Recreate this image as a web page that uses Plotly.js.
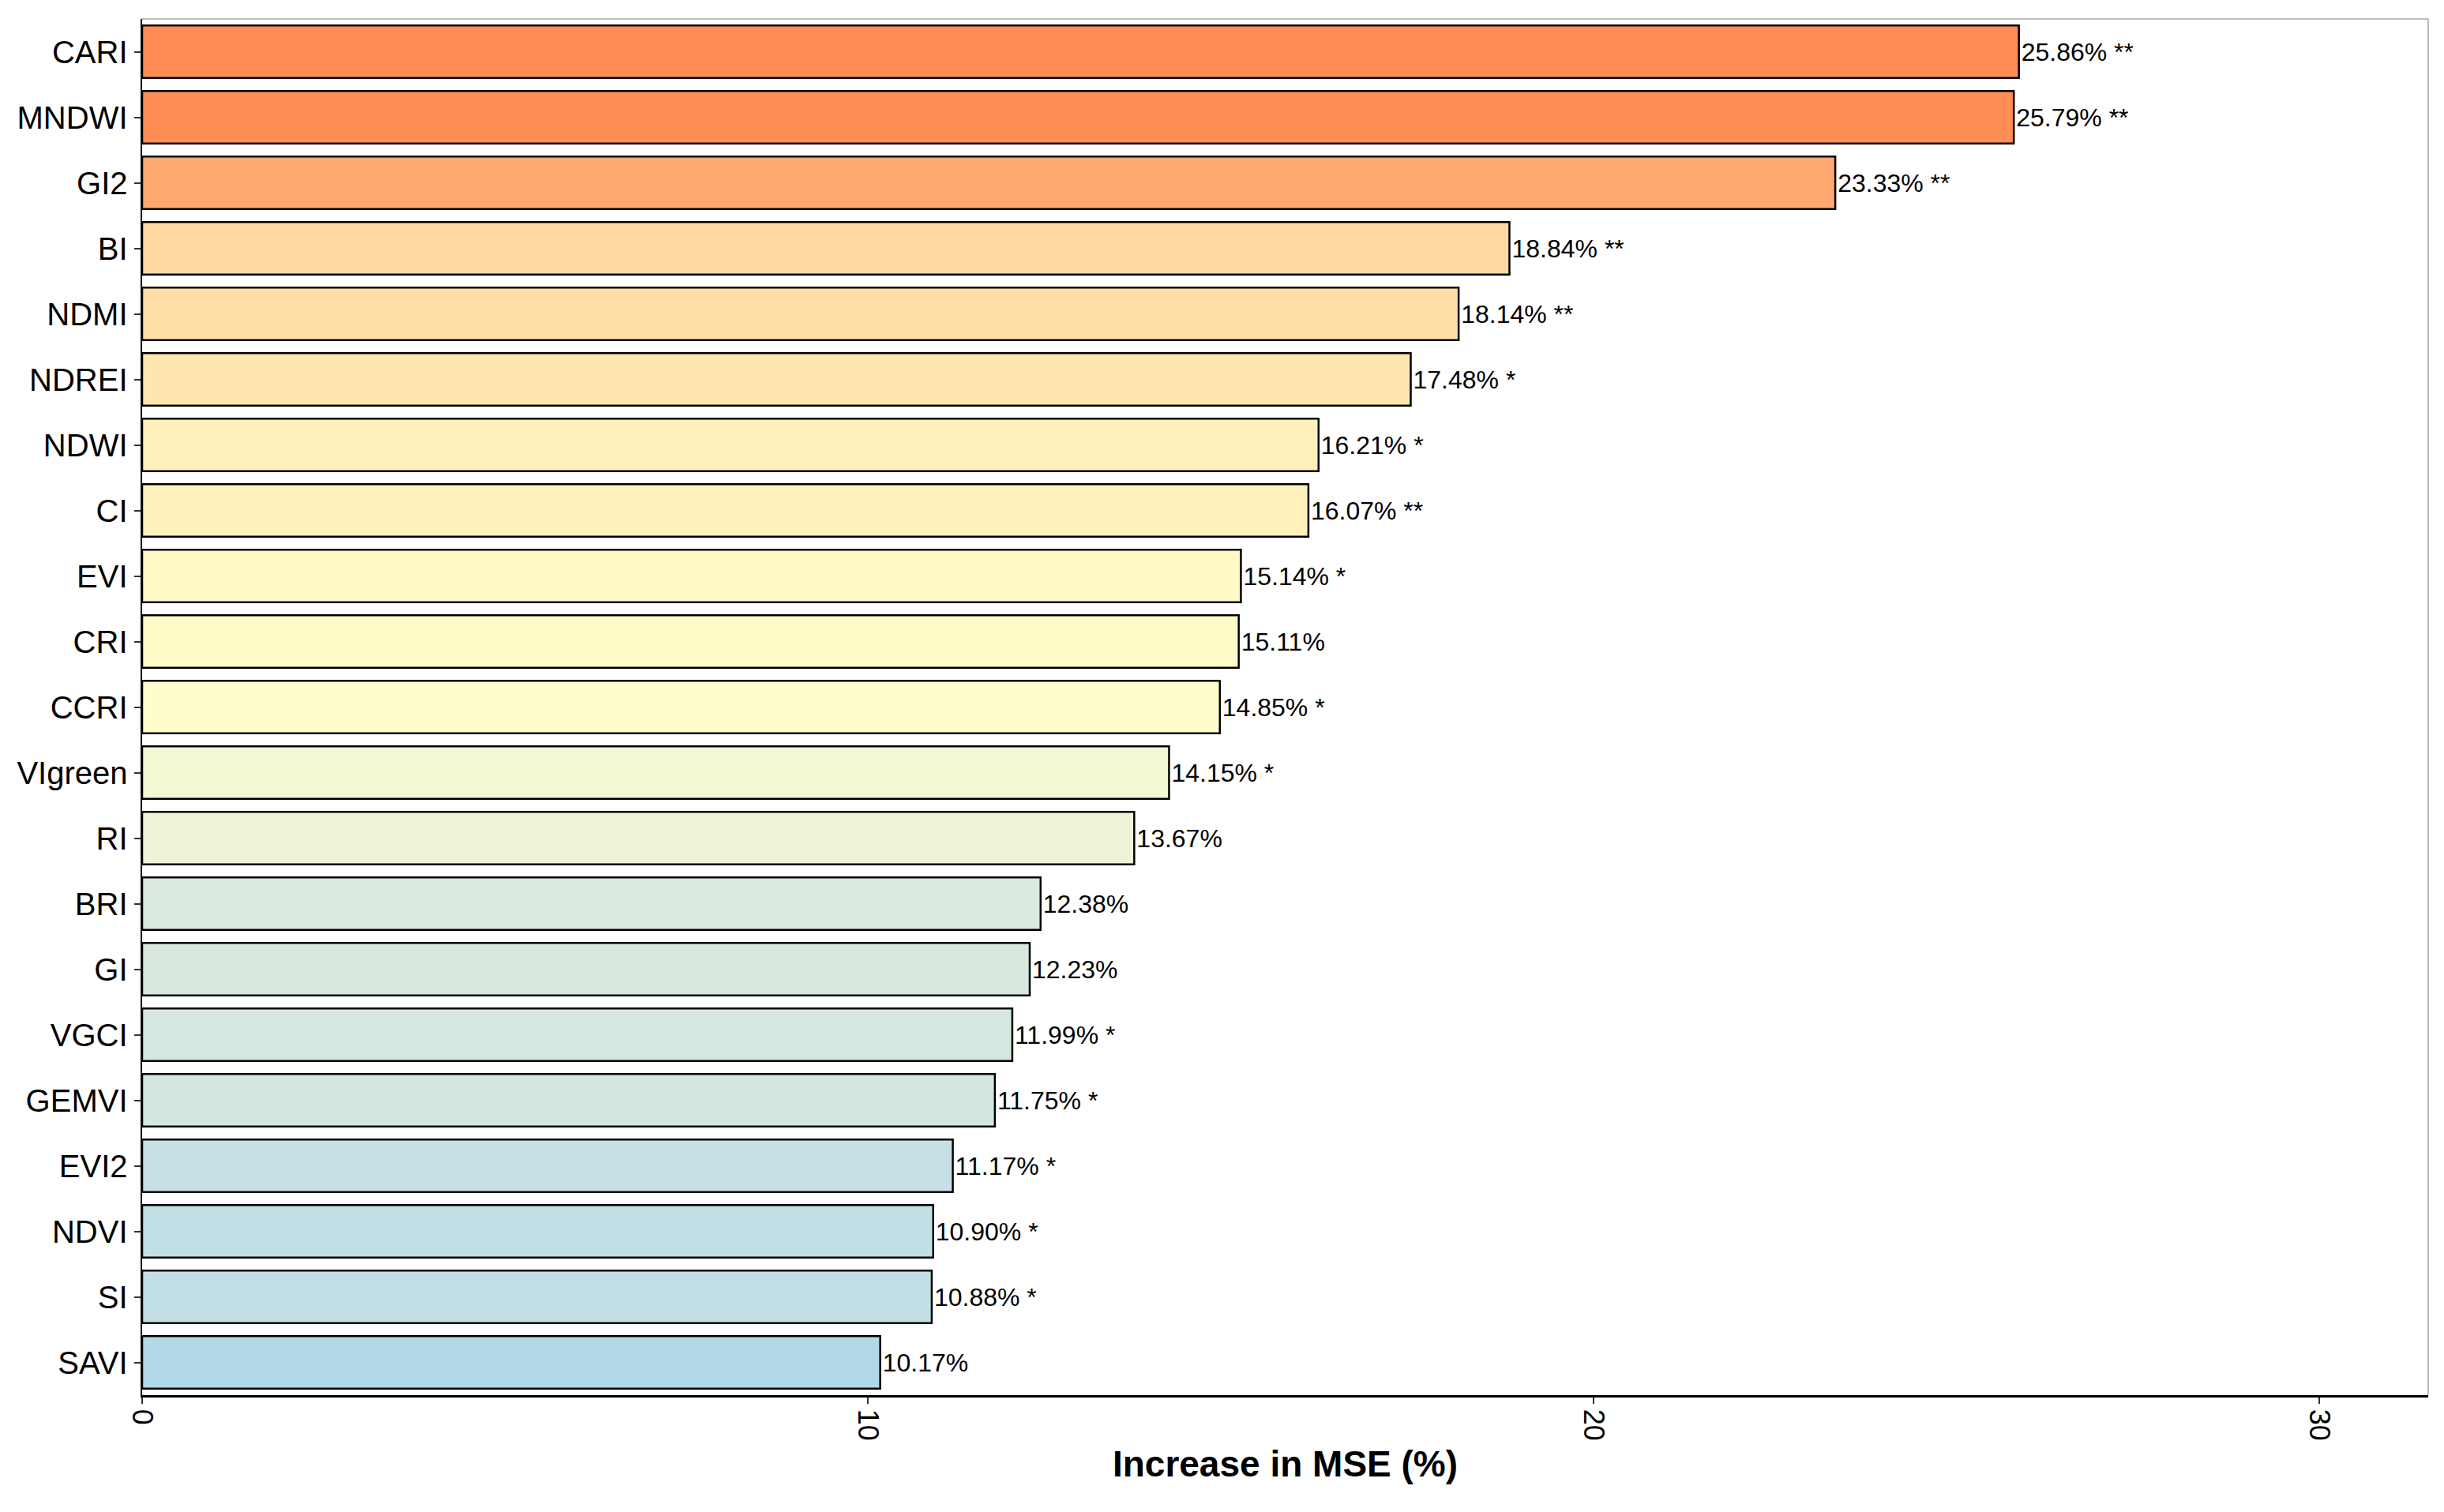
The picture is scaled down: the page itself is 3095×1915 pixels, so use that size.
<!DOCTYPE html>
<html>
<head>
<meta charset="utf-8">
<script src="https://cdn.plot.ly/plotly-3.0.1.min.js"></script>
<style>html,body{margin:0;padding:0;background:#fff}#chart{width:3095px;height:1915px}</style>
</head>
<body>
<div id="chart"></div>
<script>
// top to bottom as drawn
var indices = ["CARI","MNDWI","GI2","BI","NDMI","NDREI","NDWI","CI","EVI","CRI","CCRI","VIgreen","RI","BRI","GI","VGCI","GEMVI","EVI2","NDVI","SI","SAVI"];
var incMSE = [25.86,25.79,23.33,18.84,18.14,17.48,16.21,16.07,15.14,15.11,14.85,14.15,13.67,12.38,12.23,11.99,11.75,11.17,10.90,10.88,10.17];
var signif = ["**","**","**","**","**","*","*","**","*","","*","*","","","","*","*","*","*","*",""];
var barColors = ["#FF8C55","#FF8D56","#FFA872","#FFD9A1","#FFDFA7","#FFE6AF","#FFF0BB","#FFF1BC","#FFF9C6","#FFFAC7","#FFFDCB","#F3F7D3","#EEF4D7","#D9E9DF","#D8E8DF","#D6E7E0","#D3E6E2","#C7E0E5","#C3DFE6","#C3DFE6","#B3D9E8"];

var labels = incMSE.map(function(v,i){ return v.toFixed(2) + "%" + (signif[i] ? " " + signif[i] : ""); });

var trace = {
  type: "bar",
  orientation: "h",
  y: indices,
  x: incMSE,
  marker: {color: barColors, line: {color: "#000", width: 2.5}},
  text: labels,
  textposition: "outside",
  cliponaxis: false,
  textfont: {family: "Liberation Sans, Arial, sans-serif", size: 32, color: "#000"},
  hoverinfo: "none"
};

var layout = {
  width: 3095, height: 1915,
  margin: {l: 180, r: 20, t: 24, b: 148},
  paper_bgcolor: "#fff", plot_bgcolor: "#fff",
  bargap: 0.2,
  showlegend: false,
  font: {family: "Liberation Sans, Arial, sans-serif", color: "#000"},
  xaxis: {
    range: [0, 31.5], tickvals: [0,10,20,30], ticktext: ["0","10","20","30"],
    tickangle: 90, tickfont: {size: 36, color: "#000"},
    ticks: "outside", ticklen: 8, tickwidth: 2, tickcolor: "#333",
    showgrid: false, zeroline: false, showline: true, linecolor: "#000", linewidth: 2.5,
    title: {text: "<b>Increase in MSE (%)</b>", font: {size: 46}, standoff: 14}
  },
  yaxis: {
    autorange: "reversed", tickfont: {size: 40, color: "#000"},
    ticks: "outside", ticklen: 8, tickwidth: 2, tickcolor: "#333",
    showgrid: false, zeroline: false, showline: true, linecolor: "#000", linewidth: 2.5
  },
  shapes: [
    {type: "line", xref: "paper", yref: "paper", x0: 0, x1: 1, y0: 1, y1: 1, line: {color: "#bbb", width: 2}},
    {type: "line", xref: "paper", yref: "paper", x0: 1, x1: 1, y0: 0, y1: 1, line: {color: "#bbb", width: 2}}
  ]
};

Plotly.newPlot("chart", [trace], layout, {displayModeBar: false, staticPlot: true});
</script>
</body>
</html>
